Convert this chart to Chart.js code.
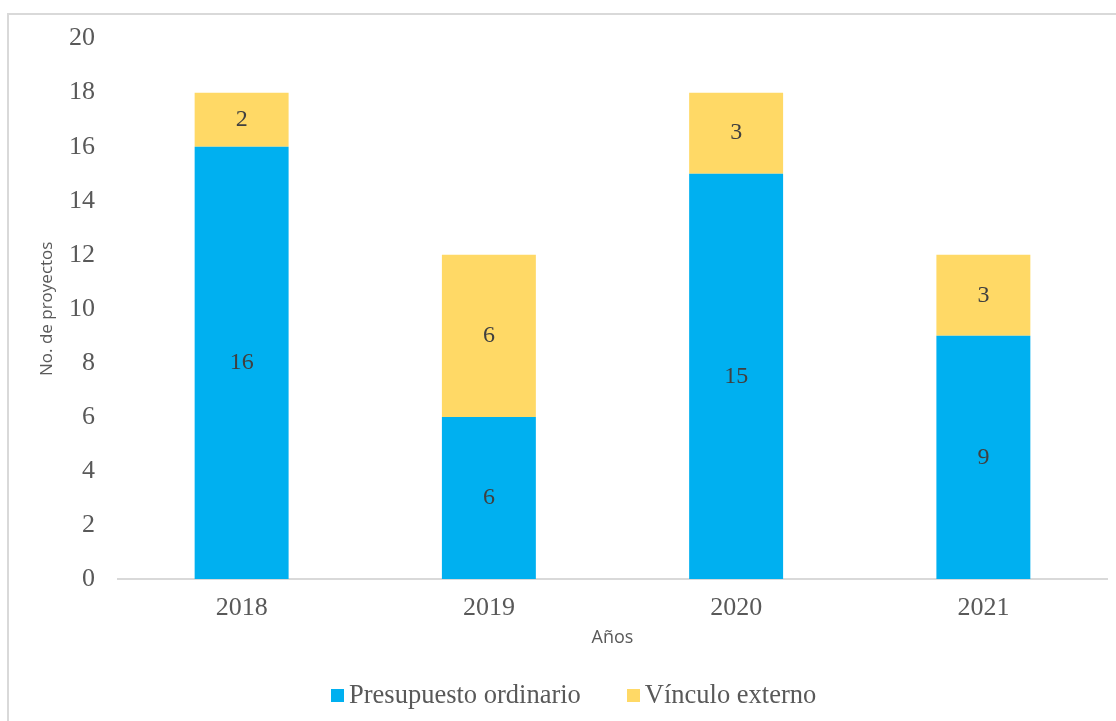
<!DOCTYPE html>
<html>
<head>
<meta charset="utf-8">
<script src="https://cdn.jsdelivr.net/npm/chart.js@4"></script>
<style>
  body { margin: 0; background: #fff; overflow: hidden; }
  #wrap { position: relative; width: 1116px; height: 721px; }
  #frame { position: absolute; left: 7px; top: 13px; width: 1200px; height: 800px; border: 2px solid #d9d9d9; }
  #projects-chart { position: absolute; left: 0; top: 0; }
  #legend { position: absolute; left: 331px; top: 679px; display: flex; font-family: "Liberation Serif", serif; font-size: 26.5px; line-height: 30px; color: #595959; }
  #legend span.item { display: flex; align-items: center; margin-right: 46px; }
  #legend span.box { display: inline-block; width: 13px; height: 13px; margin-right: 5px; margin-top: 3px; }
</style>
</head>
<body>
<div id="wrap">
  <div id="frame"></div>
  <canvas id="projects-chart" width="1116" height="721"></canvas>
  <div id="legend"></div>
</div>
<script>
var years = ['2018', '2019', '2020', '2021'];
var ordinario = [16, 6, 15, 9];
var externo = [2, 6, 3, 3];
var seriesNames = ['Presupuesto ordinario', 'Vínculo externo'];
var seriesColors = ['#00B0F0', '#FFD966'];
var yTicks = [0, 2, 4, 6, 8, 10, 12, 14, 16, 18, 20];

var textGray = '#595959';

// writes each segment's value in the middle of its bar
const barLabels = {
    id: 'barLabels',
    afterDatasetsDraw(chart) {
        const ctx = chart.ctx;
        ctx.save();
        ctx.font = '24px "Liberation Serif", serif';
        ctx.fillStyle = '#404040';
        ctx.textAlign = 'center';
        ctx.textBaseline = 'middle';
        chart.data.datasets.forEach((dataset, i) => {
            chart.getDatasetMeta(i).data.forEach((bar, j) => {
                const mid = (bar.y + bar.base) / 2;
                ctx.fillText(dataset.data[j], bar.x, mid);
            });
        });
        ctx.restore();
    }
};

function makeLegend(chart) {
    const legend = document.getElementById('legend');
    legend.innerHTML = '';
    chart.data.datasets.forEach(ds => {
        const item = document.createElement('span');
        item.className = 'item';
        const box = document.createElement('span');
        box.className = 'box';
        box.style.background = ds.backgroundColor;
        item.appendChild(box);
        item.appendChild(document.createTextNode(ds.label));
        legend.appendChild(item);
    });
}

const projectsChart = new Chart(document.getElementById('projects-chart'), {
    type: 'bar',
    data: {
        labels: years,
        datasets: [
            { label: seriesNames[0], data: ordinario, backgroundColor: seriesColors[0] },
            { label: seriesNames[1], data: externo, backgroundColor: seriesColors[1] }
        ]
    },
    options: {
        responsive: false,
        animation: false,
        layout: { padding: { top: 36, right: 9, bottom: 58, left: 0 } },
        datasets: { bar: { categoryPercentage: 1, barPercentage: 0.38 } },
        plugins: {
            legend: { display: false },
            tooltip: { enabled: false }
        },
        scales: {
            x: {
                stacked: true,
                grid: { display: false, drawTicks: false },
                border: { display: true, color: '#d9d9d9', width: 2 },
                ticks: {
                    color: textGray,
                    padding: 14,
                    font: { family: '"Liberation Serif", serif', size: 26 }
                },
                title: {
                    display: true,
                    text: 'Años',
                    color: textGray,
                    padding: { bottom: 14 },
                    font: { family: '"Open Sans", sans-serif', size: 18 }
                },
                afterFit: s => { s.height = 84; }
            },
            y: {
                stacked: true,
                min: 0,
                max: 20,
                afterBuildTicks: s => { s.ticks = yTicks.map(v => ({ value: v })); },
                grid: { display: false, drawTicks: false },
                border: { display: false },
                ticks: {
                    color: textGray,
                    padding: 23,
                    font: { family: '"Liberation Serif", serif', size: 26 }
                },
                title: {
                    display: true,
                    text: 'No. de proyectos',
                    color: textGray,
                    padding: { top: 37 },
                    font: { family: '"Open Sans", sans-serif', size: 17 }
                },
                afterFit: s => { s.width = 118; }
            }
        }
    },
    plugins: [barLabels]
});

makeLegend(projectsChart);
</script>
</body>
</html>
